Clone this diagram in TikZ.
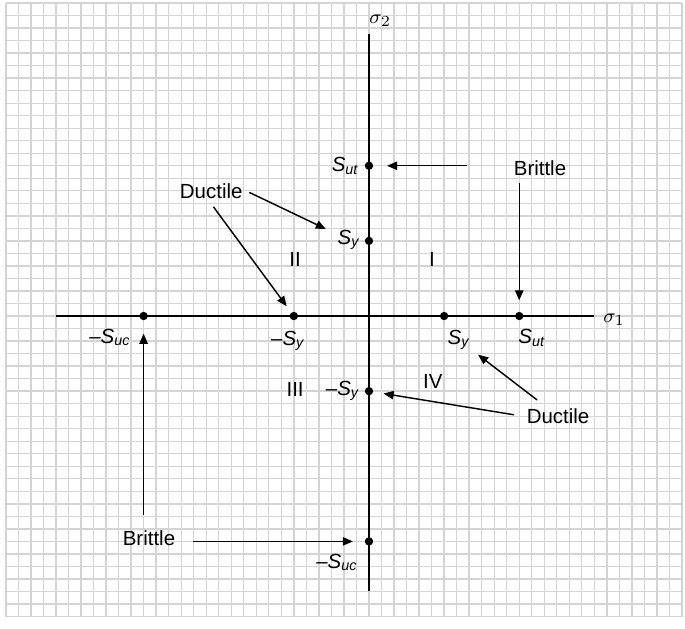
\documentclass[tikz,border=0pt]{standalone}
\usepackage{fontspec}
\setmainfont{Liberation Sans}
\usetikzlibrary{arrows.meta}
\newcommand{\Slab}[1]{\textit{S}\textsubscript{\textit{#1}}}

\begin{document}
\begin{tikzpicture}[x=0.2cm,y=0.2cm,
  every node/.style={font=\fontsize{9.3}{11}\selectfont},
  paper/.style={black!17,line width=0.6pt},
  axis/.style={line width=0.9pt},
  dot/.style={circle,fill=black,inner sep=0pt,minimum size=3.8pt},
  arr/.style={-{Triangle[length=4.6pt,width=3.8pt]},line width=0.65pt},
  note/.style={inner sep=2pt}]
\useasboundingbox (-29.47,-24.92) rectangle (25.24,25.24);
% graph paper
\draw[paper,step=0.2cm] (-29,-24) grid (25,25);
\draw[axis] (-25,0) -- (18,0);
\draw[axis] (0,-22) -- (0,22.5);
\node (sig1) at (19.57,-0.32) {$\sigma_1$};
\node (sig2) at (0.9,23.6) {$\sigma_2$};
% failure points on the axes
\node[dot] (sutV) at (0,12) {};
\node[dot] (syV) at (0,6) {};
\node[dot] (msyV) at (0,-6) {};
\node[dot] (msucV) at (0,-18) {};
\node[dot] (sutH) at (12,0) {};
\node[dot] (syH) at (6,0) {};
\node[dot] (msyH) at (-6,0) {};
\node[dot] (msucH) at (-18,0) {};
\node (lsutV) at (-1.88,12) {\Slab{ut}};
\node (lsyV) at (-1.6,6.07) {\Slab{y}};
\node (lmsyV) at (-2.08,-5.99) {–\Slab{y}};
\node (lmsucV) at (-2.56,-19.65) {–\Slab{uc}};
\node (lsutH) at (13.02,-1.76) {\Slab{ut}};
\node (lsyH) at (7.19,-1.92) {\Slab{y}};
\node (lmsyH) at (-6.45,-2.0) {–\Slab{y}};
\node (lmsucH) at (-20.69,-1.72) {–\Slab{uc}};
% quadrants
\node (qI) at (5.03,4.55) {I};
\node (qII) at (-5.9,4.55) {II};
\node (qIII) at (-5.9,-5.83) {III};
\node (qIV) at (5.1,-5.2) {IV};
% notes and arrows
\node[note] (ductA) at (-12.6,9.95) {Ductile};
\node[note] (britA) at (13.66,11.8) {Brittle};
\node[note] (ductB) at (15.1,-7.99) {Ductile};
\node[note] (britB) at (-17.57,-17.73) {Brittle};
\draw[arr,shorten <=1pt,shorten >=2pt] (ductA.east) -- (lsyV);
\draw[arr,shorten <=1.7pt,shorten >=3.4pt] (ductA.south) -- (msyH);
\draw[arr,shorten <=19pt,shorten >=6.1pt] (britA.west |- sutV) -- (sutV);
\draw[arr,shorten <=1pt,shorten >=5pt] (britA.south -| sutH) -- (sutH);
\draw[arr,shorten <=2.8pt] (ductB) -- (lsyH);
\draw[arr,shorten <=3.7pt,shorten >=4.6pt] (ductB.west) -- (msyV);
\draw[arr,shorten <=4.8pt,shorten >=5.9pt] (britB.north -| msucH) -- (msucH);
\draw[arr,shorten <=5.9pt,shorten >=5.2pt] (britB.east |- msucV) -- (msucV);
\end{tikzpicture}
\end{document}
